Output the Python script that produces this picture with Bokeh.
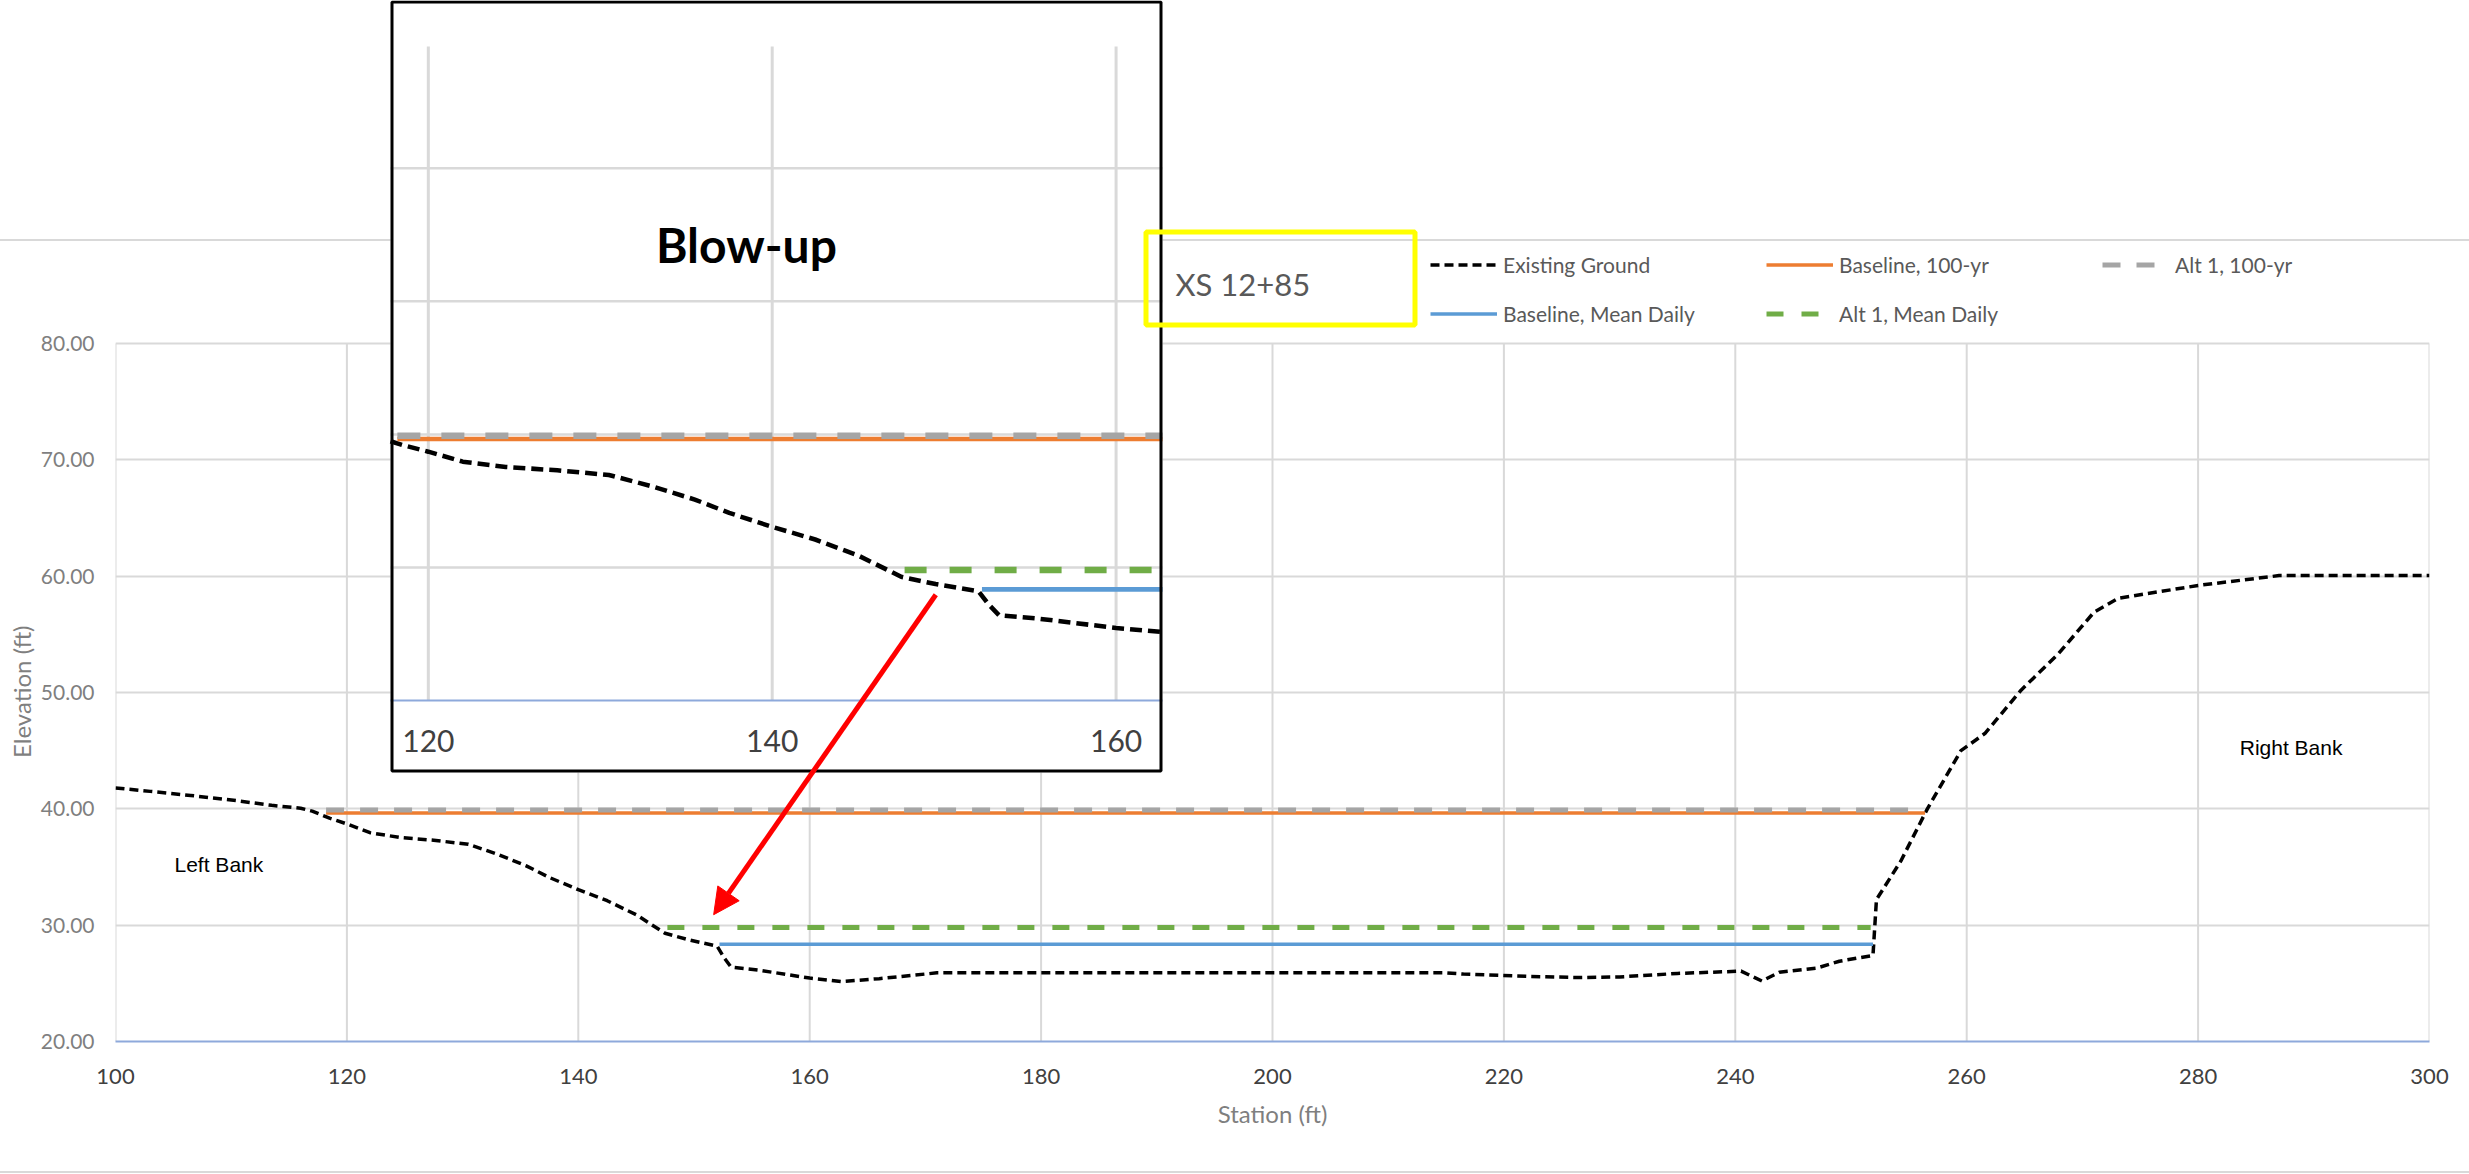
import numpy as np
from bokeh.plotting import figure
from bokeh.models import (Range1d, FixedTicker, PrintfTickFormatter, Legend, LegendItem,
                          Label, BoxAnnotation, Arrow, NormalHead, Title)
from bokeh.core.properties import value
from bokeh.embed import file_html
from bokeh.resources import INLINE

# ---- Cross-section XS 12+85: existing ground profile (station ft, elevation ft)
station = [100.0, 103.0, 106.5, 110.5, 113.5, 116.0, 117.0, 118.5, 120.0, 122.0,
           124.5, 127.5, 130.5, 133.0, 135.5, 137.5, 140.0, 142.5, 145.0, 147.5,
           149.5, 152.0, 152.6, 153.2, 155.5, 160.0, 162.7, 166.0, 171.0, 215.0,
           216.5, 222.0, 226.5, 230.0, 235.0, 240.5, 242.3, 243.8, 247.0, 249.0,
           251.9, 252.2, 254.3, 256.6, 259.5, 261.6, 264.7, 267.9, 271.0, 273.1,
           280.0, 287.0, 300.0]
elevation = [41.8, 41.5, 41.15, 40.7, 40.3, 40.05, 39.8, 39.2, 38.7, 37.95,
             37.55, 37.3, 36.95, 36.1, 35.1, 34.1, 33.05, 32.1, 30.9, 29.3,
             28.75, 28.2, 27.2, 26.4, 26.15, 25.45, 25.15, 25.4, 25.9, 25.9,
             25.8, 25.6, 25.5, 25.55, 25.85, 26.05, 25.2, 25.95, 26.3, 26.9,
             27.4, 32.2, 35.5, 40.0, 45.0, 46.5, 50.2, 53.3, 56.9, 58.1,
             59.2, 60.05, 60.05]

# ---- Water-surface elevations: extent (stations) and level
base_100_sta = [118.2, 256.4]
base_100_wse = 39.65
alt1_100_sta = [118.2, 256.2]
alt1_100_wse = 39.9
base_md_sta = [152.2, 251.9]
base_md_wse = 28.35
alt1_md_sta = [147.7, 251.7]
alt1_md_wse = 29.8

x_ticks = [100, 120, 140, 160, 180, 200, 220, 240, 260, 280, 300]
y_ticks = [20, 30, 40, 50, 60, 70, 80]
inset_x_ticks = [120, 140, 160]
inset_y_grid = [30, 40, 50, 60]

# ---- page geometry (px)
W, H = 2469, 1174
ML, MR, MB = 115, 40, 133           # borders around the drawing frame
FR_L, FR_R, FR_T, FR_B = ML, W - MR, 0, H - MB
PLOT_TOP = 343                      # where elevation 80 sits
X0, X1, Y0, Y1 = 100, 300, 20, 80
SX = (FR_R - FR_L) / (X1 - X0)
SY = (FR_B - PLOT_TOP) / (Y1 - Y0)

# blow-up panel: outer box and its own plot area
BX_L, BX_R, BX_T, BX_B = 390, 1162, 0, 772
IP_T, IP_B = 46, 700
IX0, IX1, IY0, IY1 = 117.8, 162.7, 20, 69.15
ISX = (BX_R - BX_L) / (IX1 - IX0)
ISY = (IP_B - IP_T) / (IY1 - IY0)


def inset_y(cy):
    """Blow-up elevation at a page row."""
    return IY0 + (IP_B - cy) / ISY


FONT = "Lato"
GRID = "#d9d9d9"
AXIS_BLUE = "#8EA9DB"

p = figure(width=W, height=H,
           x_range=Range1d(X0, X1),
           y_range=Range1d(Y0, Y1 + (PLOT_TOP - FR_T) / SY),
           min_border_left=ML, min_border_right=MR, min_border_top=0,
           min_border_bottom=MB, output_backend="svg", toolbar_location=None)
p.title.visible = False
p.outline_line_color = None
p.background_fill_alpha = 0
p.border_fill_alpha = 0
# chart-area border: light rules across the page at the top and bottom of the chart area
p.styles = {
    "background-color": "white",
    "background-image": "linear-gradient(#d9d9d9, #d9d9d9), linear-gradient(#d9d9d9, #d9d9d9)",
    "background-size": "100% 2px, 100% 2px",
    "background-position": "0 239px, 0 1171px",
    "background-repeat": "no-repeat",
}

# blow-up coordinate system laid over the same frame
p.extra_x_ranges = {"inset": Range1d(IX0 - (BX_L - FR_L) / ISX, IX0 + (FR_R - BX_L) / ISX)}
p.extra_y_ranges = {"inset": Range1d(IY0 - (FR_B - IP_B) / ISY, IY0 + (IP_B - FR_T) / ISY)}
INS = dict(x_range_name="inset", y_range_name="inset")


def draw_profiles(k, sta, elev, extents, **kw):
    """Ground plus the four water-surface lines; k scales strokes for the blow-up."""
    def dash(a, b):
        return f"{round(a * k)} {round(b * k)}"
    (b100, a100, bmd, amd) = extents
    r_ground = p.line(sta, elev, line_color="black", line_width=3.5 * k,
                      line_dash=dash(9, 5), **kw)
    r_b100 = p.line(b100, [base_100_wse] * 2, line_color="#ED7D31",
                    line_width=3.5 * k, **kw)
    r_a100 = p.line(a100, [alt1_100_wse] * 2, line_color="#A5A5A5",
                    line_width=5 * k, line_dash=dash(18, 16), **kw)
    r_bmd = p.line(bmd, [base_md_wse] * 2, line_color="#5B9BD5",
                   line_width=3.5 * k, **kw)
    r_amd = p.line(amd, [alt1_md_wse] * 2, line_color="#70AD47",
                   line_width=5 * k, line_dash=dash(17, 18), **kw)
    return r_ground, r_b100, r_a100, r_bmd, r_amd


# ================= main cross-section =================
# vertical grid rules stop at the top of the elevation scale
p.xgrid.visible = False
p.segment(x0=x_ticks, y0=[Y0] * len(x_ticks), x1=x_ticks, y1=[Y1] * len(x_ticks),
          line_color=GRID, line_width=2)
p.ygrid.grid_line_color = GRID
p.ygrid.grid_line_width = 2

r_ground, r_b100, r_a100, r_bmd, r_amd = draw_profiles(
    1.0, station, elevation, (base_100_sta, alt1_100_sta, base_md_sta, alt1_md_sta))

p.xaxis.ticker = FixedTicker(ticks=x_ticks)
p.yaxis.ticker = FixedTicker(ticks=y_ticks)
p.yaxis.formatter = PrintfTickFormatter(format="%.2f")
p.xaxis.axis_line_color = AXIS_BLUE
p.xaxis.axis_line_width = 2
p.yaxis.axis_line_color = None
for ax in (p.xaxis, p.yaxis):
    ax.major_tick_line_color = None
    ax.minor_tick_line_color = None
    ax.major_tick_out = 0
    ax.major_tick_in = 0
    ax.major_label_text_font = FONT

p.xaxis.major_label_text_font_size = "22px"
p.xaxis.major_label_text_color = "#404040"
p.xaxis.major_label_standoff = 27
p.xaxis.axis_label = "Station (ft)"
p.xaxis.axis_label_standoff = 12
p.xaxis.axis_label_text_font = FONT
p.xaxis.axis_label_text_font_style = "normal"
p.xaxis.axis_label_text_font_size = "24px"
p.xaxis.axis_label_text_color = "#7f7f7f"

p.yaxis.major_label_text_font_size = "21px"
p.yaxis.major_label_text_color = "#7f7f7f"
p.yaxis.major_label_standoff = 21

# elevation caption centred on the 20-80 scale rather than the whole frame
caption_len = 131
scale_mid = (PLOT_TOP + FR_B) / 2
p.add_layout(Title(text="Elevation (ft)", align="left",
                   offset=(FR_B - scale_mid) - caption_len / 2,
                   text_font=FONT, text_font_size="24px", text_font_style="normal",
                   text_color="#7f7f7f", standoff=4), "left")

# bank annotations
p.add_layout(Label(x=105.1, y=35.2, text="Left Bank", text_font="Liberation Sans",
                   text_font_size="21px", text_color="black", text_baseline="middle"))
p.add_layout(Label(x=283.6, y=45.3, text="Right Bank", text_font="Liberation Sans",
                   text_font_size="21px", text_color="black", text_baseline="middle"))

# legend above the plot area
legend = Legend(items=[
    LegendItem(label="Existing Ground", renderers=[r_ground]),
    LegendItem(label="Baseline, 100-yr", renderers=[r_b100]),
    LegendItem(label="Alt 1, 100-yr", renderers=[r_a100]),
    LegendItem(label="Baseline, Mean Daily", renderers=[r_bmd]),
    LegendItem(label="Alt 1, Mean Daily", renderers=[r_amd]),
], orientation="horizontal", ncols=3, location=(1430 - FR_L, FR_B - 338),
    glyph_width=67, glyph_height=49, label_height=49, label_width=263,
    label_standoff=6, spacing=0, padding=0, margin=0,
    label_text_font=FONT, label_text_font_size="21px", label_text_color="#595959",
    border_line_color=None, background_fill_alpha=0)
p.add_layout(legend)

# ================= blow-up of the left toe =================
box_bottom, box_top = inset_y(BX_B), inset_y(BX_T)
p.quad(left=[IX0], right=[IX1], bottom=[box_bottom], top=[box_top],
       fill_color="white", line_color=None, **INS)
p.segment(x0=inset_x_ticks, y0=[IY0] * 3, x1=inset_x_ticks, y1=[IY1] * 3,
          line_color=GRID, line_width=3, **INS)
p.segment(x0=[IX0] * len(inset_y_grid), y0=inset_y_grid,
          x1=[IX1] * len(inset_y_grid), y1=inset_y_grid,
          line_color=GRID, line_width=2.5, **INS)


def clip_ext(ext):
    return [max(ext[0], IX0), min(ext[1], IX1)]


sta = np.array(station)
inside = (sta > IX0) & (sta < IX1)
in_sta = np.concatenate([[IX0], sta[inside], [IX1]])
in_elev = np.interp(in_sta, sta, np.array(elevation))
draw_profiles(1.3, in_sta, in_elev,
              tuple(clip_ext(e) for e in (base_100_sta, alt1_100_sta, base_md_sta, alt1_md_sta)),
              **INS)

# blow-up station axis
p.segment(x0=[IX0], y0=[IY0], x1=[IX1], y1=[IY0], line_color=AXIS_BLUE, line_width=2, **INS)
p.text(x=inset_x_ticks, y=[inset_y(740)] * 3, text=[str(t) for t in inset_x_ticks],
       text_font=value(FONT), text_font_size="30px", text_color="#404040",
       text_align="center", text_baseline="middle", **INS)
p.text(x=[138.5], y=[54.3], text=["Blow-up"], text_font=value(FONT),
       text_font_size="48px", text_font_style="bold", text_color="black",
       text_align="center", text_baseline="middle", **INS)
# black frame of the blow-up panel
p.quad(left=[IX0 + 1.5 / ISX], right=[IX1 - 1.5 / ISX],
       bottom=[inset_y(BX_B - 1.5)], top=[inset_y(BX_T + 1.5)],
       fill_alpha=0, line_color="black", line_width=3, **INS)

# section title box
p.add_layout(BoxAnnotation(left=1145.5 - FR_L, right=1414.5 - FR_L,
                           top=FR_B - 231.5, bottom=FR_B - 324.5,
                           left_units="screen", right_units="screen",
                           top_units="screen", bottom_units="screen",
                           fill_alpha=0, line_color="#FFFF00", line_alpha=1.0,
                           line_width=5))
p.add_layout(Label(x=1175 - FR_L, y=FR_B - 283, x_units="screen", y_units="screen",
                   text="XS 12+85", text_font=FONT, text_font_size="31px",
                   text_color="#595959", text_baseline="middle", text_align="left"))

# pointer from the blow-up to the toe of the left bank
p.add_layout(Arrow(x_start=170.9, y_start=58.4, x_end=151.7, y_end=30.9,
                   line_color="#FF0000", line_width=5,
                   end=NormalHead(size=26, fill_color="#FF0000", line_color="#FF0000")))

open("out.html", "w").write(file_html(p, INLINE))
